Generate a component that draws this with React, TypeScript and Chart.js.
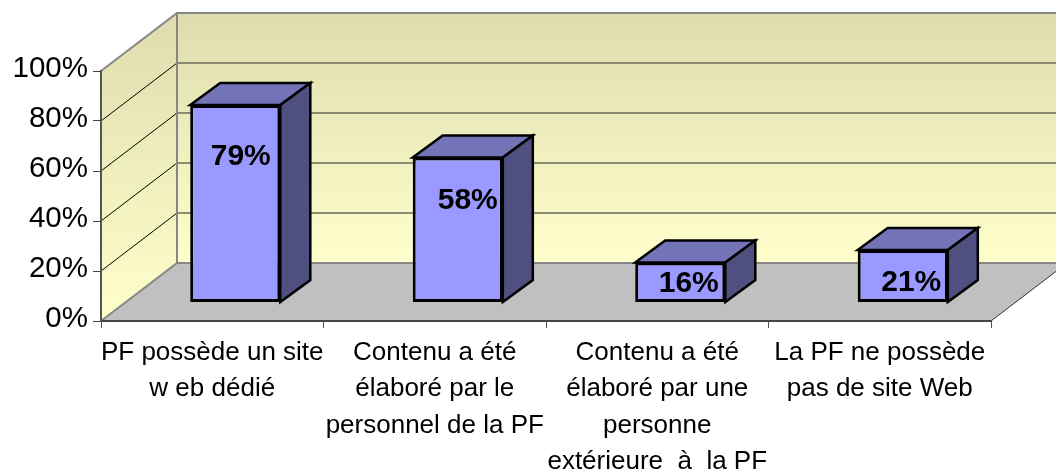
import React, { useEffect, useRef } from "react";
import { Chart, registerables } from "chart.js";

Chart.register(...registerables);

const categories: string[][] = [
  ["PF possède un site", "w eb dédié"],
  ["Contenu a été", "élaboré par le", "personnel de la PF"],
  ["Contenu a été", "élaboré par une", "personne", "extérieure  à  la PF"],
  ["La PF ne possède", "pas de site Web"],
];
const shares: number[] = [79, 58, 16, 21];
const yTicks: number[] = [0, 20, 40, 60, 80, 100];

const wallDepth = { x: 76, y: 58 };
const barShift = { x: 23, y: 18.5 };
const barDepth = { x: 30, y: 22 };
const labelNudgeX = [5.5, 10, 8.5, 8.5];
const labelNudgeY = [52, 43, 21, 33];

const FONT = '"Liberation Sans", Arial, sans-serif';

const scene3d = {
  id: "scene3d",
  beforeDraw(chart: any) {
    const { ctx, chartArea: a, scales } = chart;
    const y = scales.y;
    const W = wallDepth;
    const y0 = y.getPixelForValue(0);
    const y100 = y.getPixelForValue(100);
    ctx.save();
    // back wall
    let g = ctx.createLinearGradient(0, y100 - W.y, 0, y0 - W.y);
    g.addColorStop(0, "#DEDCAE");
    g.addColorStop(1, "#FFFFCC");
    ctx.fillStyle = g;
    ctx.fillRect(a.left + W.x, y100 - W.y, a.width, y0 - y100);
    // left wall
    g = ctx.createLinearGradient(0, y100 - W.y, 0, y0);
    g.addColorStop(0, "#DEDCAE");
    g.addColorStop(1, "#FFFFCC");
    ctx.fillStyle = g;
    ctx.beginPath();
    ctx.moveTo(a.left, y0);
    ctx.lineTo(a.left, y100);
    ctx.lineTo(a.left + W.x, y100 - W.y);
    ctx.lineTo(a.left + W.x, y0 - W.y);
    ctx.closePath();
    ctx.fill();
    // floor
    ctx.fillStyle = "#C0C0C0";
    ctx.beginPath();
    ctx.moveTo(a.left, y0);
    ctx.lineTo(a.left + W.x, y0 - W.y);
    ctx.lineTo(a.right + W.x, y0 - W.y);
    ctx.lineTo(a.right, y0);
    ctx.closePath();
    ctx.fill();
    // grid lines
    for (const t of yTicks) {
      if (t === 0 || t === 100) continue;
      const p = y.getPixelForValue(t);
      ctx.strokeStyle = "#000000";
      ctx.lineWidth = 1;
      ctx.beginPath();
      ctx.moveTo(a.left, p);
      ctx.lineTo(a.left + W.x, p - W.y);
      ctx.stroke();
      ctx.strokeStyle = "#6A6A58";
      ctx.lineWidth = 1.5;
      ctx.beginPath();
      ctx.moveTo(a.left + W.x, p - W.y);
      ctx.lineTo(a.right + W.x, p - W.y);
      ctx.stroke();
    }
    // wall edges
    ctx.strokeStyle = "#868686";
    ctx.lineWidth = 2;
    ctx.beginPath();
    ctx.moveTo(a.left, y100);
    ctx.lineTo(a.left + W.x, y100 - W.y);
    ctx.lineTo(a.right + W.x, y100 - W.y);
    ctx.moveTo(a.left + W.x, y100 - W.y);
    ctx.lineTo(a.left + W.x, y0 - W.y);
    ctx.moveTo(a.left, y0);
    ctx.lineTo(a.left + W.x, y0 - W.y);
    ctx.lineTo(a.right + W.x, y0 - W.y);
    ctx.stroke();
    ctx.strokeStyle = "#333333";
    ctx.lineWidth = 1;
    ctx.beginPath();
    ctx.moveTo(a.right, y0);
    ctx.lineTo(a.right + W.x, y0 - W.y);
    ctx.stroke();
    ctx.restore();
  },
  beforeDatasetDraw(chart: any, args: any) {
    const { ctx } = chart;
    const meta = chart.getDatasetMeta(args.index);
    ctx.save();
    ctx.translate(barShift.x, -barShift.y);
    const D = barDepth;
    ctx.lineJoin = "miter";
    ctx.lineWidth = 2.5;
    ctx.strokeStyle = "#000000";
    for (const bar of meta.data) {
      const { x, y, base, width } = bar.getProps(["x", "y", "base", "width"], true);
      const l = x - width / 2;
      const r = x + width / 2;
      // top face
      ctx.fillStyle = "#7373B8";
      ctx.beginPath();
      ctx.moveTo(l, y);
      ctx.lineTo(l + D.x, y - D.y);
      ctx.lineTo(r + D.x, y - D.y);
      ctx.lineTo(r, y);
      ctx.closePath();
      ctx.fill();
      ctx.stroke();
      // side face
      ctx.fillStyle = "#4F4F80";
      ctx.beginPath();
      ctx.moveTo(r, y);
      ctx.lineTo(r + D.x, y - D.y);
      ctx.lineTo(r + D.x, base - D.y);
      ctx.lineTo(r, base);
      ctx.closePath();
      ctx.fill();
      ctx.stroke();
    }
  },
  afterDatasetDraw(chart: any) {
    chart.ctx.restore();
  },
  afterDatasetsDraw(chart: any) {
    const { ctx } = chart;
    const meta = chart.getDatasetMeta(0);
    ctx.save();
    ctx.fillStyle = "#000000";
    ctx.font = `bold 30px ${FONT}`;
    ctx.textAlign = "center";
    ctx.textBaseline = "middle";
    meta.data.forEach((bar: any, i: number) => {
      const { x, y } = bar.getProps(["x", "y"], true);
      ctx.fillText(
        `${shares[i]}%`,
        x + barShift.x + labelNudgeX[i],
        y - barShift.y + labelNudgeY[i]
      );
    });
    ctx.restore();
  },
};

export default function App() {
  const ref = useRef<HTMLCanvasElement>(null);
  useEffect(() => {
    const chart = new Chart(ref.current as HTMLCanvasElement, {
      type: "bar",
      data: {
        labels: categories,
        datasets: [
          {
            data: shares,
            backgroundColor: "#9999FF",
            borderColor: "#000000",
            borderWidth: 3,
            borderSkipped: false,
            barPercentage: 0.405,
            categoryPercentage: 1,
          },
        ],
      },
      options: {
        responsive: false,
        animation: false,
        layout: { padding: { top: 71, right: 65, left: 0, bottom: 0 } },
        plugins: { legend: { display: false }, title: { display: false }, tooltip: { enabled: false } },
        scales: {
          x: {
            offset: true,
            grid: { offset: true, drawOnChartArea: false, drawTicks: true, tickLength: 7, color: "#555555", lineWidth: 1 },
            border: { display: true, color: "#444444", width: 2 },
            ticks: {
              color: "#000000",
              maxRotation: 0,
              autoSkip: false,
              padding: 7,
              font: { family: FONT, size: 26, lineHeight: 1.39 },
            },
            afterFit(s: any) {
              s.height = 151;
            },
          },
          y: {
            min: 0,
            max: 100,
            grid: { drawOnChartArea: false, drawTicks: true, tickLength: 8, color: "#444444", lineWidth: 1 },
            border: { display: true, color: "#555555", width: 2 },
            ticks: {
              stepSize: 20,
              color: "#000000",
              padding: 5,
              labelOffset: -2,
              font: { family: FONT, size: 29.5 },
              callback: (v: any) => `${v}%`,
            },
            afterFit(s: any) {
              s.width = 101;
            },
          },
        },
      },
      plugins: [scene3d],
    } as any);
    return () => chart.destroy();
  }, []);
  return (
    <div style={{ position: "fixed", left: 0, top: 0, width: 1056, height: 472, background: "#ffffff" }}>
      <canvas ref={ref} width={1056} height={472} style={{ display: "block" }} />
    </div>
  );
}
